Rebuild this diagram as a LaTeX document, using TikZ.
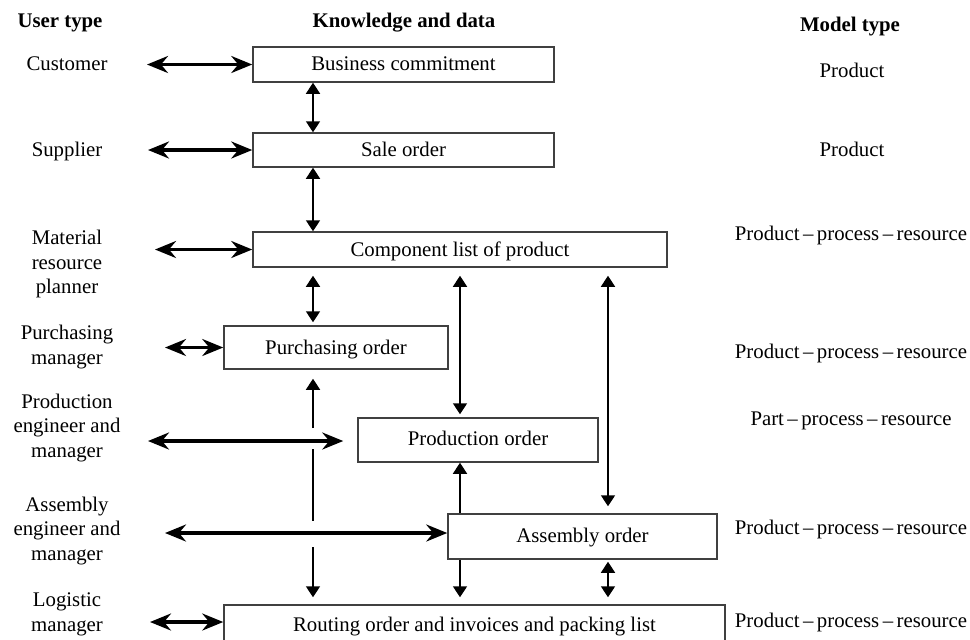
\documentclass[tikz,border=0pt]{standalone}
\usepackage{fontspec}
\setmainfont{Liberation Serif}
\usetikzlibrary{arrows.meta}
\begin{document}
\begin{tikzpicture}[x=0.5pt,y=-0.5pt,
  lbl/.style={font=\fontsize{10.4}{12.25}\selectfont, inner sep=0pt, align=center},
  oneline/.style={lbl, text height=6.8pt, text depth=0pt},
  hd/.style={oneline, font=\fontsize{10.4}{12.25}\selectfont\bfseries},
  box/.style={oneline, draw=black!75, line width=0.75pt, fill=white},
  htip/.tip={Stealth[length=10.5pt,width=8.5pt,inset=3.5pt]},
  vtip/.tip={Triangle[length=5.5pt,width=7pt]},
  harrow/.style={line width=1.6pt, htip-htip},
  vline/.style={line width=0.85pt}
]
\path[fill=white, use as bounding box] (0,0) rectangle (970,639);

% column headings
\node[hd] (h-user)  at (60,21)  {User type};
\node[hd] (h-know)  at (404,21) {Knowledge and data};
\node[hd] (h-model) at (850,25) {Model type};

% knowledge and data boxes (text placed by its own anchor inside)
\node[draw=black!75, line width=0.75pt, minimum width=150.5pt, minimum height=17.5pt] (bc)   at (403.5,64.5)  {};
\node[draw=black!75, line width=0.75pt, minimum width=150.5pt, minimum height=17pt]   (so)   at (403.5,150)   {};
\node[draw=black!75, line width=0.75pt, minimum width=207pt,   minimum height=17.5pt] (clp)  at (460,249.5)   {};
\node[draw=black!75, line width=0.75pt, minimum width=112pt,   minimum height=21.5pt] (po)   at (336,347.5)   {};
\node[draw=black!75, line width=0.75pt, minimum width=120pt,   minimum height=22pt]   (prod) at (478,440)     {};
\node[draw=black!75, line width=0.75pt, minimum width=134.5pt, minimum height=22.5pt] (asm)  at (582.5,536.5) {};
\node[draw=black!75, line width=0.75pt, minimum width=250.5pt, minimum height=28pt]   (rout) at (474.5,633)   {};

\node[oneline] (bc-t)   at (403.5,63.5) {Business commitment};
\node[oneline] (so-t)   at (403.5,150)  {Sale order};
\node[oneline] (clp-t)  at (460,250)    {Component list of product};
\node[oneline] (po-t)   at (336,347.5)  {Purchasing order};
\node[oneline] (prod-t) at (478,438.5)  {Production order};
\node[oneline] (asm-t)  at (582.5,536)  {Assembly order};
\node[oneline] (rout-t) at (474.5,625)  {Routing order and invoices and packing list};

% user types
\node[oneline] (cust) at (67,64)    {Customer};
\node[oneline] (supp) at (67,150)   {Supplier};
\node[lbl]     (mrp)  at (67,264)   {Material\\resource\\planner};
\node[lbl]     (pm)   at (67,347)   {Purchasing\\manager};
\node[lbl]     (pe)   at (67,428)   {Production\\engineer and\\manager};
\node[lbl]     (ae)   at (67,531)   {Assembly\\engineer and\\manager};
\node[lbl]     (lm)   at (67,614.5) {Logistic\\manager};

% model types
\node[oneline] (m1) at (852,71)  {Product};
\node[oneline] (m2) at (852,150) {Product};
\node[oneline] (m3) at (851,234) {Product\,--\,process\,--\,resource};
\node[oneline] (m4) at (851,352) {Product\,--\,process\,--\,resource};
\node[oneline] (m5) at (851,419) {Part\,--\,process\,--\,resource};
\node[oneline] (m6) at (851,528) {Product\,--\,process\,--\,resource};
\node[oneline] (m7) at (851,621) {Product\,--\,process\,--\,resource};

% user-side arrow ends
\coordinate (cust-e) at (147,64.5);
\coordinate (supp-e) at (148,150);
\coordinate (mrp-e)  at (155,249.5);
\coordinate (pm-e)   at (165,347.5);
\coordinate (pe-e)   at (148,441);
\coordinate (ae-e)   at (165,533);
\coordinate (lm-e)   at (150,622);

\draw[harrow] (cust-e) -- (bc.west);
\draw[harrow] (supp-e) -- (so.west);
\draw[harrow] (mrp-e) -- (clp.west);
\draw[harrow] (pm-e) -- (po.west);
\draw[harrow, shorten >=7pt] (pe-e) -- (pe-e -| prod.west);
\draw[harrow] (ae-e) -- (ae-e -| asm.west);
\draw[harrow] (lm-e) -- (lm-e -| rout.west);

% vertical flow columns
\coordinate (colA) at (313,0);
\coordinate (colB) at (460,0);
\coordinate (colC) at (608,0);

\draw[vline, vtip-vtip] (bc.south -| colA) -- (so.north -| colA);
\draw[vline, vtip-vtip] (so.south -| colA) -- (clp.north -| colA);
\draw[vline, vtip-vtip, shorten <=4pt, shorten >=1.5pt] (clp.south -| colA) -- (po.north -| colA);

% column A passes under the two long user arrows
\coordinate (gapA1) at (313,428);
\coordinate (gapA2) at (313,449);
\coordinate (gapA3) at (313,521);
\coordinate (gapA4) at (313,547);
\draw[vline, -vtip, shorten >=4.5pt] (gapA1) -- (po.south -| colA);
\draw[vline] (gapA2) -- (gapA3);
\draw[vline, -vtip, shorten >=3.5pt] (gapA4) -- (rout.north -| colA);

\draw[vline, vtip-vtip, shorten <=4pt, shorten >=1.5pt] (clp.south -| colB) -- (prod.north -| colB);
\draw[vline, -vtip] (asm.north -| colB) -- (prod.south -| colB);
\draw[vline, -vtip, shorten >=3.5pt] (asm.south -| colB) -- (rout.north -| colB);

\draw[vline, vtip-vtip, shorten <=4pt, shorten >=3.5pt] (clp.south -| colC) -- (asm.north -| colC);
\draw[vline, vtip-vtip, shorten <=1pt, shorten >=3.5pt] (asm.south -| colC) -- (rout.north -| colC);
\end{tikzpicture}
\end{document}
